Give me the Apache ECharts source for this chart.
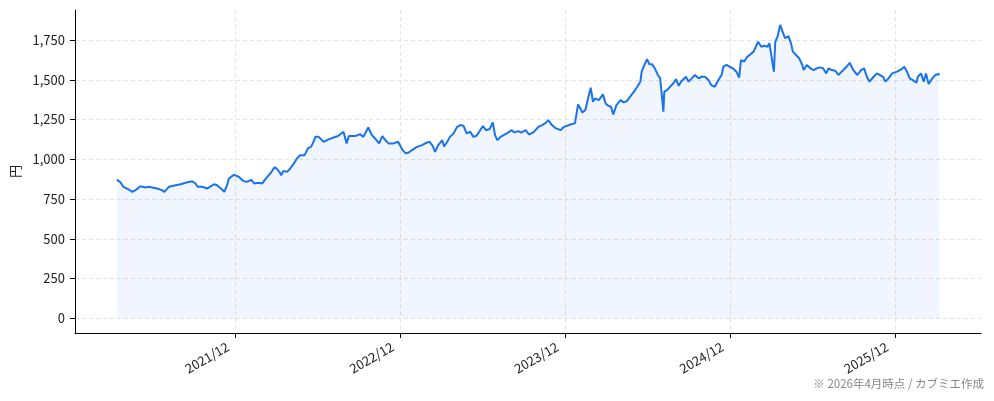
<!DOCTYPE html>
<html><head><meta charset="utf-8">
<script src="https://cdn.jsdelivr.net/npm/echarts@6/dist/echarts.min.js"></script>
<style>html,body{margin:0;padding:0;background:#fff}#c{width:994px;height:401px}</style>
</head><body><div id="c"></div>
<script>
const dates = [
'2021-04-12','2021-04-20','2021-04-26','2021-05-01','2021-05-08','2021-05-16','2021-05-23','2021-06-03','2021-06-14','2021-06-21','2021-06-29',
'2021-07-10','2021-07-21','2021-07-26','2021-08-05','2021-08-20','2021-08-31','2021-09-11','2021-09-26','2021-10-03','2021-10-08','2021-10-18','2021-10-29',
'2021-11-13','2021-11-20','2021-12-01','2021-12-06','2021-12-12','2021-12-16','2021-12-27',
'2022-01-07','2022-01-17','2022-01-24','2022-02-04','2022-02-10','2022-02-20','2022-02-28','2022-03-07','2022-03-18','2022-03-27',
'2022-04-01','2022-04-07','2022-04-11','2022-04-16','2022-04-24','2022-05-01','2022-05-09','2022-05-16','2022-05-23',
'2022-06-02','2022-06-09','2022-06-16','2022-06-20','2022-06-26','2022-07-03','2022-07-14','2022-07-25','2022-08-05','2022-08-15','2022-08-27',
'2022-09-03','2022-09-08','2022-09-22','2022-10-03','2022-10-10','2022-10-21','2022-10-29','2022-11-05','2022-11-14','2022-11-21','2022-11-28',
'2022-12-05','2022-12-16','2022-12-26',
'2023-01-05','2023-01-12','2023-01-19','2023-01-26','2023-02-06','2023-02-17','2023-02-27','2023-03-06','2023-03-13','2023-03-18','2023-03-25',
'2023-04-03','2023-04-07','2023-04-14','2023-04-20','2023-04-28','2023-05-06','2023-05-13','2023-05-20','2023-05-27',
'2023-06-04','2023-06-11','2023-06-18','2023-06-26','2023-07-02','2023-07-09','2023-07-17','2023-07-24','2023-07-29',
'2023-08-03','2023-08-10','2023-08-17','2023-08-24','2023-09-04','2023-09-10','2023-09-18','2023-09-25','2023-10-05','2023-10-12','2023-10-22',
'2023-11-02','2023-11-10','2023-11-17','2023-11-24','2023-12-02','2023-12-09','2023-12-21','2023-12-29',
'2024-01-12','2024-01-22','2024-01-26','2024-01-29','2024-02-03','2024-02-07','2024-02-14','2024-02-17','2024-02-21','2024-02-26',
'2024-03-02','2024-03-07','2024-03-15','2024-03-24','2024-03-30','2024-04-01','2024-04-05','2024-04-11','2024-04-16','2024-04-23',
'2024-05-02','2024-05-09','2024-05-16','2024-05-23','2024-06-01','2024-06-08','2024-06-15','2024-06-18','2024-06-24','2024-06-30',
'2024-07-05','2024-07-11','2024-07-17','2024-07-24','2024-07-29','2024-08-01','2024-08-05','2024-08-07','2024-08-13','2024-08-20','2024-08-27',
'2024-09-02','2024-09-08','2024-09-13','2024-09-24','2024-09-30','2024-10-07','2024-10-14','2024-10-22','2024-10-29',
'2024-11-05','2024-11-13','2024-11-19','2024-11-27','2024-12-05','2024-12-12','2024-12-16','2024-12-23','2024-12-30',
'2025-01-06','2025-01-14','2025-01-20','2025-01-24','2025-01-31','2025-02-07','2025-02-14','2025-02-21',
'2025-03-03','2025-03-10','2025-03-17','2025-03-24','2025-03-28','2025-04-07','2025-04-10','2025-04-15','2025-04-21','2025-04-28',
'2025-05-02','2025-05-09','2025-05-15','2025-05-19','2025-05-23','2025-06-02','2025-06-09','2025-06-12','2025-06-19','2025-06-27',
'2025-07-04','2025-07-11','2025-07-18','2025-07-25','2025-08-01','2025-08-06','2025-08-13','2025-08-21','2025-08-28',
'2025-09-04','2025-09-12','2025-09-22','2025-09-30','2025-10-09','2025-10-17','2025-10-24','2025-10-30',
'2025-11-05','2025-11-14','2025-11-21','2025-11-28','2025-12-05','2025-12-10','2025-12-17','2025-12-25',
'2026-01-05','2026-01-14','2026-01-21','2026-01-27','2026-02-02','2026-02-09','2026-02-17','2026-02-20','2026-02-27',
'2026-03-05','2026-03-10','2026-03-16','2026-03-24','2026-03-31','2026-04-07','2026-04-09'
];
const prices = [
872,854,827,820,810,795,806,831,823,827,823,
816,806,795,827,837,843,852,862,848,827,827,816,
843,837,810,795,837,879,902,
890,864,858,870,848,852,848,875,911,949,
942,921,900,927,921,942,974,1005,1026,
1026,1068,1078,1100,1141,1141,1110,1125,1137,1146,1173,
1100,1146,1146,1158,1141,1200,1152,1131,1100,1146,1120,
1100,1100,1110,
1058,1037,1043,1058,1078,1089,1104,1110,1083,1047,1089,
1120,1080,1110,1141,1163,1204,1215,1211,1163,
1173,1141,1148,1183,1209,1183,1190,1232,1152,
1120,1141,1152,1163,1183,1169,1177,1167,1183,1156,1169,
1204,1215,1226,1246,1215,1198,1183,1204,
1219,1226,1215,1345,1320,1295,1309,1345,1393,1450,
1362,1383,1372,1408,1351,1341,1336,1330,1282,1341,
1372,1358,1366,1393,1425,1456,1488,1551,1593,1630,
1597,1597,1572,1530,1509,1505,1299,1425,1435,1456,1477,
1504,1462,1488,1519,1488,1509,1530,1509,1519,
1519,1498,1467,1456,1498,1530,1582,1593,1582,
1572,1551,1513,1624,1614,1645,1660,1677,
1739,1708,1714,1708,1730,1551,1739,1771,1845,1788,
1761,1775,1729,1677,1687,1635,1593,1561,1593,1572,
1561,1572,1578,1572,1540,1572,1561,1557,1530,
1551,1572,1607,1561,1530,1561,1572,1519,
1488,1519,1540,1530,1519,1488,1509,1540,
1551,1565,1582,1551,1509,1498,1481,1519,1540,
1488,1540,1473,1509,1530,1536,1530
];
const yTicks = [0, 250, 500, 750, 1000, 1250, 1500, 1750];
const xTickDates = ['2021-12-31', '2022-12-31', '2023-12-31', '2024-12-31', '2025-12-31'];
const xRange = ['2021-01-09', '2026-07-10'];
const yRange = [-92.4, 1938.8];
const yAxisName = '円';
const footnote = '※ 2026年4月時点 / カブミエ作成';

const FONT = '"Noto Sans CJK JP", "Noto Sans", sans-serif';
function ts(s) { const p = s.split('-').map(Number); return new Date(p[0], p[1] - 1, p[2]).getTime(); }
const xTicks = xTickDates.map(ts);
const seriesData = dates.map((d, i) => [ts(d), prices[i]]);

const chart = echarts.init(document.getElementById('c'), null, { renderer: 'canvas' });
const gridLine = { show: true, lineStyle: { color: '#e3e3e3', type: [4, 3], width: 1 } };
chart.setOption({
  backgroundColor: '#fff',
  animation: false,
  title: {
    text: footnote, right: 5, bottom: 7,
    textStyle: { fontSize: 11.5, color: '#888', fontWeight: 'normal', fontFamily: FONT }
  },
  grid: { left: 75, right: 13, top: 10, bottom: 68 },
  xAxis: {
    type: 'value', min: ts(xRange[0]), max: ts(xRange[1]), scale: true,
    axisLine: { show: true, onZero: false, lineStyle: { color: '#000', width: 1 } },
    axisTick: { show: true, length: 5, customValues: xTicks, lineStyle: { color: '#000' } },
    axisLabel: {
      customValues: xTicks, rotate: 30, margin: 8, padding: [0, 9, 0, 0],
      fontSize: 13, color: '#222', fontFamily: FONT,
      formatter: function (v) { const d = new Date(v); return d.getFullYear() + '/' + String(d.getMonth() + 1).padStart(2, '0'); }
    },
    splitLine: gridLine
  },
  yAxis: {
    type: 'value', min: yRange[0], max: yRange[1],
    name: yAxisName, nameLocation: 'middle', nameRotate: 90, nameGap: 52,
    nameTextStyle: { fontSize: 13, color: '#222', fontFamily: FONT },
    axisLine: { show: true, lineStyle: { color: '#000', width: 1 } },
    axisTick: { show: true, length: 5, customValues: yTicks, lineStyle: { color: '#000' } },
    axisLabel: {
      customValues: yTicks, margin: 10, fontSize: 13, color: '#222', fontFamily: FONT,
      formatter: function (v) { return Number(v).toLocaleString('en-US'); }
    },
    splitLine: gridLine
  },
  series: [{
    type: 'line', data: seriesData, showSymbol: false, symbol: 'none',
    lineStyle: { color: '#1a73e8', width: 2 },
    itemStyle: { color: '#1a73e8' },
    areaStyle: { color: 'rgba(26,115,232,0.09)' }
  }]
});
</script>
</body></html>
